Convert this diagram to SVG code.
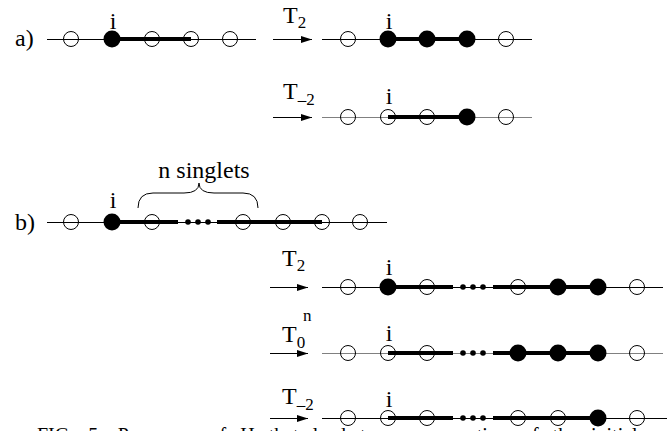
<svg xmlns="http://www.w3.org/2000/svg" width="672" height="431" viewBox="0 0 672 431">
<style>
text{font-family:"Liberation Serif","Times New Roman",serif;fill:#000}
.lbl{font-size:24px}
.i{font-size:24px}
.sub{font-size:17px}
.thin{stroke:#000;stroke-width:1;fill:none}
.thing{stroke:#808080;stroke-width:1;fill:none}
.thick{stroke:#000;stroke-width:4;fill:none}
.o{fill:none;stroke:#000;stroke-width:1}
.f{fill:#000;stroke:none}
.arr{stroke:#000;stroke-width:1;fill:none;marker-end:url(#ah)}
</style>
<defs>
<marker id="ah" markerUnits="userSpaceOnUse" markerWidth="12" markerHeight="8" refX="11" refY="4" orient="auto">
<path d="M0,0.5 L11,4 L0,7.5 Z" fill="#000"/>
</marker>
</defs>
<rect width="672" height="431" fill="#fff"/>

<g id="row-a">
<text class="lbl" x="15" y="46">a)</text>
<line class="thin" x1="47" y1="39.5" x2="256" y2="39.5"/>
<line class="thick" x1="112" y1="39" x2="191" y2="39"/>
<circle class="o" cx="71" cy="39" r="7.5"/>
<circle class="f" cx="112" cy="39" r="8.5"/>
<circle class="o" cx="152" cy="39" r="7.5"/>
<circle class="o" cx="191" cy="39" r="7.5"/>
<circle class="o" cx="230" cy="39" r="7.5"/>
<text class="i" x="113" y="29" text-anchor="middle">i</text>
</g>

<g id="row-a-T2">
<text class="lbl" x="283" y="23">T<tspan class="sub" dy="5">2</tspan></text>
<line class="thin" x1="322" y1="39.5" x2="532" y2="39.5"/>
<line class="thick" x1="388" y1="39" x2="467" y2="39"/>
<circle class="o" cx="348" cy="39" r="7.5"/>
<circle class="f" cx="388" cy="39" r="8.5"/>
<circle class="f" cx="427" cy="39" r="8.5"/>
<circle class="f" cx="467" cy="39" r="8.5"/>
<circle class="o" cx="506" cy="39" r="7.5"/>
<text class="i" x="389" y="29" text-anchor="middle">i</text>
</g>

<g id="row-a-Tm2">
<text class="lbl" x="283" y="99">T<tspan class="sub" dy="6">–2</tspan></text>
<line class="thing" x1="322" y1="117.5" x2="532" y2="117.5"/>
<line class="thick" x1="388" y1="117" x2="467" y2="117"/>
<circle class="o" cx="348" cy="117" r="7.5"/>
<circle class="o" cx="388" cy="117" r="7.5"/>
<circle class="o" cx="427" cy="117" r="7.5"/>
<circle class="f" cx="467" cy="117" r="8.5"/>
<circle class="o" cx="506" cy="117" r="7.5"/>
<text class="i" x="389" y="104" text-anchor="middle">i</text>
</g>

<g id="row-b">
<text class="lbl" x="15" y="230">b)</text>
<text class="lbl" x="204" y="178" text-anchor="middle">n singlets</text>
<path class="thin" d="M138,208 Q138,193 153,193 L184,193 Q199,193 199,183 Q199,193 214,193 L243,193 Q258,193 258,208"/>
<line class="thin" x1="47" y1="222.5" x2="387" y2="222.5"/>
<line class="thick" x1="112" y1="222" x2="178" y2="222"/>
<line class="thick" x1="217" y1="222" x2="322" y2="222"/>
<circle class="o" cx="71" cy="222" r="7.5"/>
<circle class="f" cx="112" cy="222" r="8.5"/>
<circle class="o" cx="152" cy="222" r="7.5"/>
<circle class="f" cx="188" cy="222" r="2.8"/>
<circle class="f" cx="198" cy="222" r="2.8"/>
<circle class="f" cx="208" cy="222" r="2.8"/>
<circle class="o" cx="243" cy="222" r="7.5"/>
<circle class="o" cx="283" cy="222" r="7.5"/>
<circle class="o" cx="322" cy="222" r="7.5"/>
<circle class="o" cx="360" cy="222" r="7.5"/>
<text class="i" x="113" y="208" text-anchor="middle">i</text>
</g>

<g id="row-b-T2">
<text class="lbl" x="282" y="266">T<tspan class="sub" dy="5">2</tspan></text>
<line class="thin" x1="322" y1="287.5" x2="663" y2="287.5"/>
<line class="thick" x1="388" y1="287" x2="453" y2="287"/>
<line class="thick" x1="493" y1="287" x2="598" y2="287"/>
<circle class="o" cx="348" cy="287" r="7.5"/>
<circle class="f" cx="388" cy="287" r="8.5"/>
<circle class="o" cx="427" cy="287" r="7.5"/>
<circle class="f" cx="463" cy="287" r="2.8"/>
<circle class="f" cx="473" cy="287" r="2.8"/>
<circle class="f" cx="483" cy="287" r="2.8"/>
<circle class="o" cx="518" cy="287" r="7.5"/>
<circle class="f" cx="558" cy="287" r="8.5"/>
<circle class="f" cx="598" cy="287" r="8.5"/>
<circle class="o" cx="637" cy="287" r="7.5"/>
<text class="i" x="389" y="275" text-anchor="middle">i</text>
</g>

<g id="row-b-T0n">
<text class="lbl" x="282" y="342">T<tspan class="sub" dy="6">0</tspan></text>
<text class="sub" x="303" y="321">n</text>
<line class="thing" x1="322" y1="353.5" x2="663" y2="353.5"/>
<line class="thick" x1="388" y1="353" x2="453" y2="353"/>
<line class="thick" x1="493" y1="353" x2="598" y2="353"/>
<circle class="o" cx="348" cy="353" r="7.5"/>
<circle class="o" cx="388" cy="353" r="7.5"/>
<circle class="o" cx="427" cy="353" r="7.5"/>
<circle class="f" cx="463" cy="353" r="2.8"/>
<circle class="f" cx="473" cy="353" r="2.8"/>
<circle class="f" cx="483" cy="353" r="2.8"/>
<circle class="f" cx="518" cy="353" r="8.5"/>
<circle class="f" cx="558" cy="353" r="8.5"/>
<circle class="f" cx="598" cy="353" r="8.5"/>
<circle class="o" cx="637" cy="353" r="7.5"/>
<text class="i" x="389" y="341" text-anchor="middle">i</text>
</g>

<text x="37" y="442" font-size="20" word-spacing="9">FIG. 5: Processes of H that lead to a propagation of the initial</text>

<g id="row-b-Tm2">
<text class="lbl" x="282" y="404">T<tspan class="sub" dy="6">–2</tspan></text>
<line class="thin" x1="322" y1="418.5" x2="667" y2="418.5"/>
<line class="thick" x1="388" y1="418" x2="453" y2="418"/>
<line class="thick" x1="493" y1="418" x2="598" y2="418"/>
<circle class="o" cx="348" cy="418" r="7.5"/>
<circle class="o" cx="388" cy="418" r="7.5"/>
<circle class="o" cx="427" cy="418" r="7.5"/>
<circle class="f" cx="463" cy="418" r="2.8"/>
<circle class="f" cx="473" cy="418" r="2.8"/>
<circle class="f" cx="483" cy="418" r="2.8"/>
<circle class="o" cx="518" cy="418" r="7.5"/>
<circle class="o" cx="558" cy="418" r="7.5"/>
<circle class="f" cx="598" cy="418" r="8.5"/>
<circle class="o" cx="637" cy="418" r="7.5"/>
<text class="i" x="389" y="407" text-anchor="middle">i</text>
</g>

<g id="connectors">
<line class="arr" x1="273" y1="39.5" x2="312" y2="39.5"/>
<line class="arr" x1="273" y1="117.5" x2="312" y2="117.5"/>
<line class="arr" x1="270" y1="287.5" x2="308" y2="287.5"/>
<line class="arr" x1="270" y1="353.5" x2="308" y2="353.5"/>
<line class="arr" x1="270" y1="418.5" x2="308" y2="418.5"/>
</g>
</svg>
